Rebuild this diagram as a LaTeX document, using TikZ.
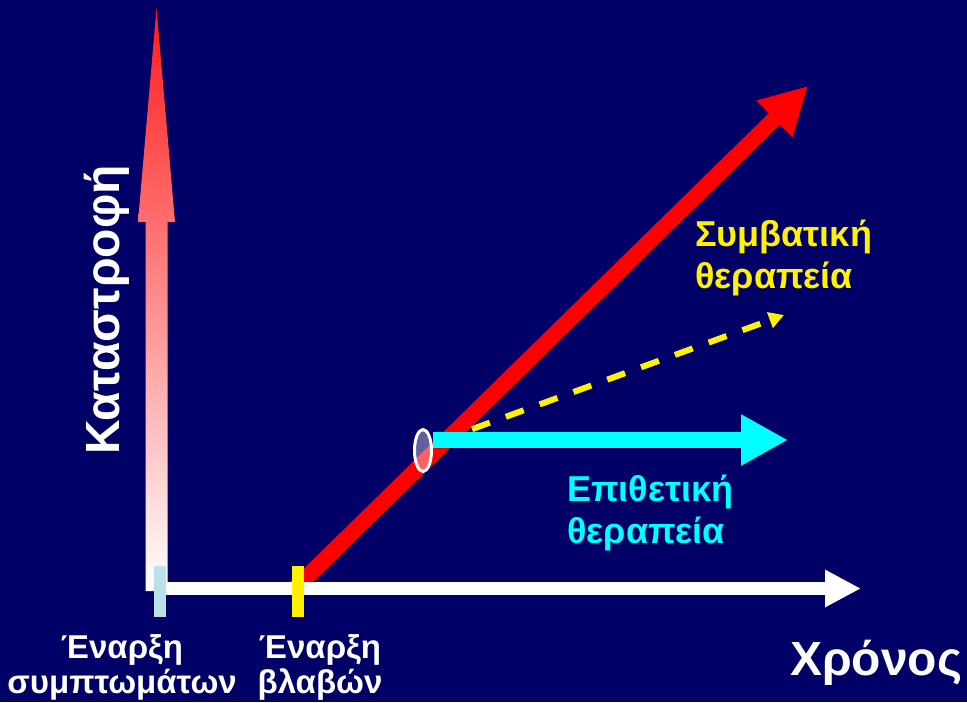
\documentclass[tikz,border=0pt]{standalone}
\usepackage{fontspec}
\setmainfont{Liberation Sans}
\usepackage{xcolor}
\usetikzlibrary{arrows.meta,positioning,calc,shapes.geometric}
\definecolor{bgnavy}{RGB}{0,0,102}
\definecolor{mkteal}{RGB}{185,225,230}
\definecolor{aqua}{RGB}{0,255,255}

\begin{document}
\begin{tikzpicture}[x=1pt,y=-1pt,
  big/.style={text=white,inner sep=0pt,font=\fontsize{48}{50}\selectfont\bfseries},
  lbl/.style={inner sep=0pt,font=\fontsize{33}{35}\selectfont\bfseries},
  side/.style={inner sep=0pt,align=left,font=\fontsize{36}{42}\selectfont\bfseries},
  onsetbar/.style={inner sep=0pt,minimum width=12pt,minimum height=51pt},
  fat/.style={line width=16pt,-{Triangle[length=47pt,width=48pt]}}]
\path[use as bounding box,fill=bgnavy] (0,0) rectangle (967,702);
% points
\coordinate (axO) at (155,588.5);
\coordinate (axT) at (861,588.5);
\coordinate (dmgOn) at (294.5,589);
\coordinate (worse) at (808,86);
\coordinate (cyOut) at (433,440);
\coordinate (cyEnd) at (788,440);
\coordinate (yeIn) at (426,446);
\coordinate (yeEnd) at (784,315);
% damage line (under the axis)
\draw[red,fat] (dmgOn) -- (worse);
% time axis
\draw[white,line width=13pt,-{Triangle[length=36pt,width=35pt]}] (axO) -- (axT);
% disaster axis, shaded arrow
\shade[top color=red!90!white,middle color=red!38!white,bottom color=white]
  (145.5,591) -- (145.5,222) -- (138,222) -- (156.5,8) -- (175,222)
  -- (167.5,222) -- (167.5,591) -- cycle;
% onset markers
\node[onsetbar,fill=mkteal] (mkSym) at (159.5,591.5) {};
\node[onsetbar,fill=yellow] (mkDmg) at (298,591.5) {};
% conventional therapy
\draw[yellow,line width=6pt,dash pattern=on 19pt off 17pt,dash phase=23pt,
  -{Triangle[length=15pt,width=16pt]}] (yeIn) -- (yeEnd);
% aggressive therapy
\draw[aqua,fat] (cyOut) -- (cyEnd);
\node[ellipse,draw=white,line width=3pt,fill=white,fill opacity=0.38,
  inner sep=0pt,minimum width=17pt,minimum height=42pt] (hit) at (423,450.5) {};
% labels (base = last line)
\node[big,rotate=90,anchor=base] (lbDis) at (119,310) {Καταστροφή};
\node[big,anchor=base west] (lbTime) at (790,675) {Χρόνος};
\node[side,text=yellow,anchor=base west] (lbConv) at (695,288) {Συμβατική\\θεραπεία};
\node[side,text=aqua,anchor=base west] (lbAggr) at (567,543) {Επιθετική\\θεραπεία};
\node[lbl,text=white,align=center,anchor=base] (lbSym) at (122,693) {Έναρξη\\συμπτωμάτων};
\node[lbl,text=white,align=center,anchor=base] (lbDmg) at (320,693) {Έναρξη\\βλαβών};
\end{tikzpicture}
\end{document}
